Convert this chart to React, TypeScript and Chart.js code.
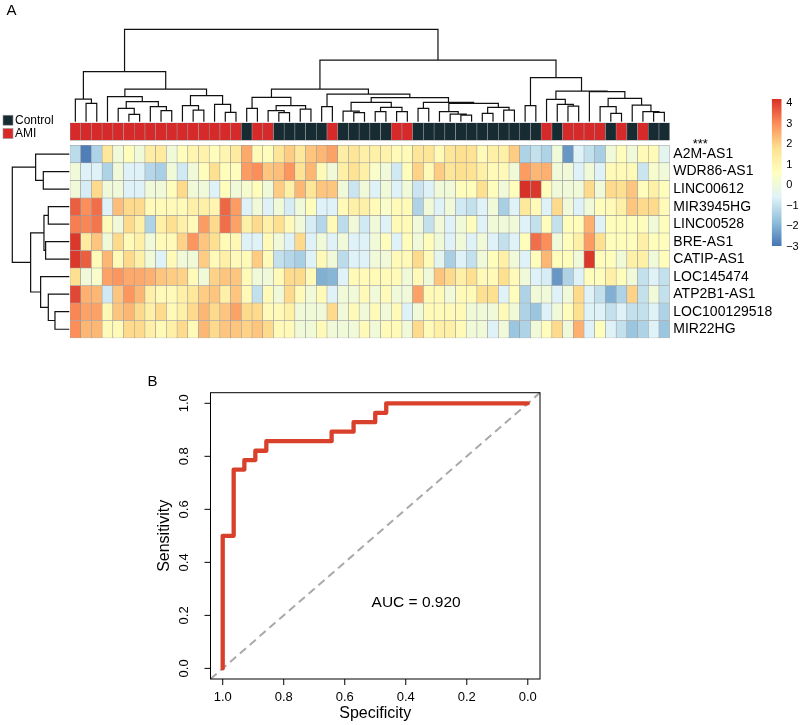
import React, { useEffect, useRef } from 'react';
import { Chart, registerables } from 'chart.js';

Chart.register(...registerables);

const W = 800;
const H = 725;
const FONT = '"Liberation Sans", Arial, Helvetica, sans-serif';

// ---------------- Panel A data ----------------
const A = 'AMI';
const C = 'Control';
const sampleGroups = [
  A, A, A, A, A, A, A, A, A, A, A, A, A, A, A, A, C, A, A, C, C, C, C, C, A, C, C, C, C, C,
  A, A, C, C, C, C, C, C, C, C, C, C, C, C, A, C, A, A, A, A, C, A, C, A, C, C,
];
const groupColors: Record<string, string> = { Control: '#172B33', AMI: '#D62A2A' };
const legendGroups = ['Control', 'AMI'];

const geneNames = [
  'A2M-AS1', 'WDR86-AS1', 'LINC00612', 'MIR3945HG', 'LINC00528', 'BRE-AS1',
  'CATIP-AS1', 'LOC145474', 'ATP2B1-AS1', 'LOC100129518', 'MIR22HG',
];
const geneSignificance = ['***', '', '', '', '', '', '', '', '', '', ''];

const exprA2M_AS1 = [-1.1,-2.8,-1.3,1.5,0.1,0.7,0.1,1.3,1.4,0.1,0.7,1.0,1.1,0.7,1.0,1.4,2.6,0.8,0.7,1.6,2.1,1.5,2.2,2.4,2.7,1.3,1.6,1.2,1.2,1.1,0.8,0.8,1.6,1.6,0.8,1.6,1.8,1.7,0.8,1.2,1.2,2.1,-1.3,-1.0,-1.3,0.1,-2.4,-0.6,-1.0,-1.4,0.1,0.7,0.1,0.8,0.8,-0.4];
const exprWDR86_AS1 = [0.1,-0.6,-0.6,-1.3,0.1,-0.6,-0.6,-1.2,-1.4,0.1,-0.8,0.1,0.7,1.8,0.7,0.7,2.8,3.0,2.2,2.3,2.9,1.7,2.4,0.8,0.1,1.2,1.7,1.2,0.4,0.1,-0.8,0.7,2.0,0.8,2.1,1.6,1.8,1.7,1.2,0.8,0.8,0.1,2.8,2.4,2.5,0.1,0.1,-0.6,0.1,-0.6,0.8,0.8,0.8,-0.9,0.3,0.1];
const exprLINC00612 = [0.1,-0.7,1.9,0.1,0.1,-0.6,-0.6,0.1,0.1,0.7,1.9,0.1,0.1,-0.6,0.7,0.1,0.3,0.7,0.1,2.1,1.2,2.4,1.6,2.2,2.2,0.1,-0.9,0.1,-0.6,0.1,-0.6,0.1,-0.9,-0.6,0.1,0.1,0.7,0.7,1.8,0.7,0.1,0.7,4.2,4.1,0.7,0.1,0.1,0.1,1.9,0.1,1.9,1.8,2.2,0.7,1.2,0.7];
const exprMIR3945HG = [3.6,3.0,3.4,-0.6,2.3,1.9,1.9,0.8,0.8,0.8,0.8,1.2,1.2,1.0,3.5,2.8,-0.6,0.1,-0.6,0.1,-0.7,0.1,0.7,-0.6,-0.6,0.8,1.2,1.2,0.8,0.4,0.8,0.8,-1.3,0.1,-0.6,0.1,-0.8,-1.0,-0.6,0.1,-1.4,-0.6,1.5,0.8,-0.6,1.9,0.1,-0.6,0.1,0.7,0.8,1.2,2.2,1.9,1.9,0.8];
const exprLINC00528 = [3.2,3.1,3.3,0.8,0.1,1.9,1.2,-1.3,1.2,1.8,1.2,0.8,2.8,1.9,3.4,2.7,1.2,1.9,1.2,1.8,0.8,0.1,-0.7,-1.2,0.8,-1.1,0.1,-0.8,0.1,-0.6,0.8,0.8,0.1,-1.0,0.1,-0.6,0.1,0.7,-0.6,0.1,0.1,0.1,-0.6,-1.0,0.7,-1.0,0.7,0.7,2.5,-0.6,0.7,0.7,0.7,0.7,0.1,0.7];
const exprBRE_AS1 = [4.1,1.4,2.2,0.1,1.9,0.8,1.2,0.1,0.8,0.8,2.0,2.9,2.2,1.8,0.8,0.9,-0.6,-0.6,0.8,0.1,-0.6,1.9,-0.6,0.1,-0.6,0.1,-0.6,-0.6,0.1,0.7,-0.6,0.7,0.1,0.7,0.1,-0.6,0.1,-0.6,0.1,-0.6,-1.0,-0.6,0.7,3.4,3.0,0.1,0.7,1.2,2.8,1.8,0.7,0.7,0.7,1.2,0.7,0.7];
const exprCATIP_AS1 = [4.1,3.6,0.8,2.4,0.8,1.9,1.2,0.1,-0.6,0.8,0.1,0.1,2.1,0.8,1.2,0.8,0.8,2.1,0.8,-1.0,-1.2,-1.4,-0.6,0.8,0.1,-1.1,-0.6,-0.6,0.1,0.1,0.8,0.8,1.9,0.8,-0.4,-1.4,-0.6,-1.0,0.1,0.7,1.2,0.1,-0.6,0.7,2.4,0.7,0.7,0.1,4.1,0.7,0.7,0.1,1.2,1.2,0.1,0.7];
const exprLOC145474 = [1.8,0.1,0.4,2.7,2.9,2.6,2.6,2.5,2.2,2.1,2.0,0.8,0.1,2.0,2.2,2.2,0.8,0.1,0.1,0.8,1.9,1.9,0.8,-2.0,-1.9,-0.6,0.8,0.8,0.8,0.8,0.8,0.1,0.8,0.1,2.2,1.9,1.2,1.8,0.8,0.8,1.8,0.8,0.1,-0.6,-0.7,-2.4,-1.3,-0.6,0.7,0.7,1.2,0.7,0.1,-1.0,-0.6,-1.0];
const exprATP2B1_AS1 = [3.9,2.5,2.4,-0.8,2.2,2.9,2.4,1.2,0.8,0.8,1.2,1.5,2.1,2.2,1.2,2.2,0.8,-1.0,0.8,0.1,1.9,0.8,0.1,0.8,-0.6,0.1,0.1,0.8,0.1,0.8,0.1,0.1,2.7,0.8,0.8,0.1,0.8,0.8,1.8,1.8,-0.6,0.7,-1.3,0.1,0.1,-0.6,0.1,1.9,-0.6,-1.0,-2.0,-1.3,2.0,-1.0,0.1,-1.0];
const exprLOC100129518 = [3.1,2.7,2.7,0.9,2.2,2.4,1.9,1.2,1.9,0.8,1.2,1.9,2.4,1.9,2.2,2.7,1.9,1.9,0.8,0.8,1.2,0.1,0.1,0.1,1.9,0.1,0.8,0.1,0.8,0.1,0.8,-0.6,0.1,0.8,0.8,0.8,0.8,0.1,0.1,0.1,0.8,0.1,-1.3,-1.6,-0.6,0.1,0.7,1.8,-0.6,-0.6,-1.0,-0.6,-1.0,-1.0,-0.6,-1.3];
const exprMIR22HG = [3.0,2.4,2.4,0.8,0.8,1.9,1.9,1.2,0.8,1.2,1.9,0.8,2.4,1.9,2.2,2.2,2.0,2.2,1.9,0.8,0.8,0.1,0.1,0.8,0.1,0.1,0.1,0.8,0.1,0.8,0.8,0.1,1.9,0.8,1.2,1.2,0.8,0.1,0.1,-0.6,0.1,-1.6,-1.3,0.1,0.7,1.9,0.1,2.5,-0.6,0.7,-0.6,-1.0,-1.6,-1.3,-0.6,-1.6];

const heatRows = [
  exprA2M_AS1, exprWDR86_AS1, exprLINC00612, exprMIR3945HG, exprLINC00528, exprBRE_AS1,
  exprCATIP_AS1, exprLOC145474, exprATP2B1_AS1, exprLOC100129518, exprMIR22HG,
];

// colour scale (reversed RdYlBu, 7 colours)
const paletteStops = ['#4575B4', '#91BFDB', '#E0F3F8', '#FFFFBF', '#FEE090', '#FC8D59', '#D73027'];
const colorMin = -2.95;
const colorMax = 4.2;
const colorbarTicks = [4, 3, 2, 1, 0, -1, -2, -3];

// column dendrogram (hclust-style merges: negative = leaf column, positive = earlier merge)
const colMerges: [number, number][] = [
  [-2, -3], [-1, 1], [-6, -7], [-5, 3], [-9, -10], [-8, 5], [4, 6], [-4, 7],
  [-12, -13], [-11, 9], [-15, -16], [-14, 11], [10, 12], [8, 13], [2, 14],
  [-17, -18], [-20, -21], [-19, 17], [-22, -23], [18, 19], [16, 20],
  [-24, -25], [-27, -28], [-26, 23], [-29, -30], [-31, -32], [25, 26], [24, 27],
  [-33, -34], [-37, -38], [-36, 30], [-35, 31], [-39, -40], [-41, -42], [33, 34],
  [32, 35], [29, 36], [28, 37], [22, 38], [21, 39],
  [-43, -44], [-47, -48], [-46, 42], [-45, 43], [-51, -52], [-50, 45], [-55, -56],
  [-54, 47], [-53, 48], [46, 49], [-49, 50], [44, 51], [41, 52], [40, 53], [15, 54],
];
const colHeights = [
  55, 68, 22, 40, 33, 45, 60, 75, 35, 48, 28, 52, 78, 98, 150,
  40, 27, 33, 38, 48, 73, 45, 27, 32, 30, 30, 43, 58,
  40, 20, 23, 30, 25, 35, 43, 55, 58, 72, 83, 98,
  48, 47, 52, 67, 25, 45, 28, 30, 50, 70, 90, 92, 132, 185, 277,
];

// row dendrogram
const rowMerges: [number, number][] = [
  [-2, -3], [-1, 1], [-4, -5], [-6, -7], [3, 4], [-10, -11], [-9, 6], [-8, 7], [5, 8], [2, 9],
];
const rowHeights = [78, 101, 63, 71, 76, 43, 63, 86, 116, 171];

// ---------------- Panel B data ----------------
const rocSpecificity = [1, 1, 0.964, 0.964, 0.929, 0.929, 0.893, 0.893, 0.857, 0.857, 0.643, 0.643, 0.571, 0.571, 0.5, 0.5, 0.464, 0.464, 0];
const rocSensitivity = [0, 0.5, 0.5, 0.75, 0.75, 0.786, 0.786, 0.821, 0.821, 0.857, 0.857, 0.893, 0.893, 0.929, 0.929, 0.964, 0.964, 1, 1];
const refLineSpecificity = [1.04, -0.04];
const refLineSensitivity = [-0.04, 1.04];
const rocTicks = [1.0, 0.8, 0.6, 0.4, 0.2, 0.0];
const aucLabel = 'AUC = 0.920';
const aucPosition = { specificity: 0.366, sensitivity: 0.246 };

// ---------------- helpers ----------------
function hexToRgb(h: string) {
  const n = parseInt(h.slice(1), 16);
  return [(n >> 16) & 255, (n >> 8) & 255, n & 255];
}
function heatColor(v: number) {
  let t = (v - colorMin) / (colorMax - colorMin);
  t = Math.max(0, Math.min(1, t));
  const p = t * (paletteStops.length - 1);
  const i = Math.min(paletteStops.length - 2, Math.floor(p));
  const f = p - i;
  const a = hexToRgb(paletteStops[i]);
  const b = hexToRgb(paletteStops[i + 1]);
  const c = a.map((x, k) => Math.round(x + (b[k] - x) * f));
  return `rgb(${c[0]},${c[1]},${c[2]})`;
}

function dendroPoints(merges: [number, number][], heights: number[], swap: boolean) {
  const pos: number[] = [];
  const hts: number[] = [];
  const pts: { x: number; y: number | null }[] = [];
  const get = (k: number) => (k < 0 ? [-k - 1 + 0.5, 0] : [pos[k - 1], hts[k - 1]]);
  merges.forEach(([a, b], i) => {
    const [pa, ha] = get(a);
    const [pb, hb] = get(b);
    const h = heights[i];
    const seg = [[pa, ha], [pa, h], [pb, h], [pb, hb]];
    seg.forEach(([p, q]) => pts.push(swap ? { x: q, y: p } : { x: p, y: q }));
    pts.push({ x: 0, y: null });
    pos.push((pa + pb) / 2);
    hts.push(h);
  });
  return pts;
}

function area(left: number, top: number, right: number, bottom: number) {
  return { left, top, right: W - right, bottom: H - bottom };
}

const baseOpts = (padding: any) => ({
  responsive: false,
  maintainAspectRatio: false,
  animation: false as const,
  events: [] as any[],
  layout: { padding },
  plugins: { legend: { display: false }, tooltip: { enabled: false }, title: { display: false } },
});

// ---------------- component ----------------
export default function App() {
  const refTop = useRef<HTMLCanvasElement>(null);
  const refRow = useRef<HTMLCanvasElement>(null);
  const refHeat = useRef<HTMLCanvasElement>(null);
  const refBar = useRef<HTMLCanvasElement>(null);
  const refRoc = useRef<HTMLCanvasElement>(null);

  useEffect(() => {
    const charts: Chart[] = [];

    // column dendrogram
    charts.push(new Chart(refTop.current!, {
      type: 'scatter',
      data: {
        datasets: [{
          data: dendroPoints(colMerges, colHeights, false) as any,
          showLine: true, borderColor: '#111', borderWidth: 1.2, pointRadius: 0,
          spanGaps: false, clip: false as any,
        }],
      },
      options: {
        ...baseOpts(area(70, 29.4, 669.7, 121.7)),
        scales: {
          x: { type: 'linear', display: false, min: 0, max: sampleGroups.length },
          y: { type: 'linear', display: false, min: 0, max: colHeights[colHeights.length - 1] },
        },
      } as any,
    }));

    // row dendrogram
    charts.push(new Chart(refRow.current!, {
      type: 'scatter',
      data: {
        datasets: [{
          data: dendroPoints(rowMerges, rowHeights, true) as any,
          showLine: true, borderColor: '#111', borderWidth: 1.2, pointRadius: 0,
          spanGaps: false, clip: false as any,
        }],
      },
      options: {
        ...baseOpts(area(12.3, 145.3, 69.3, 338)),
        scales: {
          x: { type: 'linear', display: false, min: 0, max: rowHeights[rowHeights.length - 1], reverse: true },
          y: { type: 'linear', display: false, min: 0, max: geneNames.length, reverse: true },
        },
      } as any,
    }));

    // heatmap + annotation
    const rowUnit = (338 - 145.3) / geneNames.length;
    const annTop = (122.7 - 145.3) / rowUnit;
    const annBottom = (140.3 - 145.3) / rowUnit;
    const heatDatasets: any[] = heatRows.map((vals, r) => ({
      label: geneNames[r],
      data: vals.map(() => [r, r + 1]),
      backgroundColor: vals.map(heatColor),
      borderColor: '#9a9a9a', borderWidth: 0.55, borderSkipped: false,
      barPercentage: 1, categoryPercentage: 1, grouped: false, inflateAmount: 0.3,
    }));
    heatDatasets.push({
      label: 'group',
      data: sampleGroups.map(() => [annTop, annBottom]),
      backgroundColor: sampleGroups.map((g) => groupColors[g]),
      borderColor: '#9a9a9a', borderWidth: 0.55, borderSkipped: false,
      barPercentage: 1, categoryPercentage: 1, grouped: false, inflateAmount: 0.3,
    });
    const heatText = {
      id: 'heatText',
      afterDatasetsDraw(chart: any) {
        const { ctx, chartArea: a, scales } = chart;
        const y = scales.y;
        ctx.save();
        ctx.fillStyle = '#000';
        ctx.textAlign = 'left';
        ctx.textBaseline = 'middle';
        ctx.font = `14px ${FONT}`;
        geneNames.forEach((g, r) => ctx.fillText(g, a.right + 3.6, y.getPixelForValue(r + 0.5)));
        ctx.font = `13px ${FONT}`;
        ctx.textBaseline = 'alphabetic';
        geneSignificance.forEach((s, r) => {
          if (s) ctx.fillText(s, a.right + 23, y.getPixelForValue(r + 0.5) - 6.2);
        });
        ctx.textBaseline = 'middle';
        ctx.font = `15px ${FONT}`;
        ctx.fillText('A', 6.5, 10.5);
        ctx.font = `12px ${FONT}`;
        legendGroups.forEach((g, i) => {
          const top = 115.2 + i * 13.3;
          ctx.fillStyle = groupColors[g];
          ctx.fillRect(3, top, 10, 10);
          ctx.strokeStyle = '#9a9a9a';
          ctx.lineWidth = 0.6;
          ctx.strokeRect(3, top, 10, 10);
          ctx.fillStyle = '#000';
          ctx.fillText(g, 15, top + 5.3);
        });
        ctx.restore();
      },
    };
    charts.push(new Chart(refHeat.current!, {
      type: 'bar',
      data: { labels: sampleGroups.map((g, i) => `${g} ${i + 1}`), datasets: heatDatasets },
      options: {
        ...baseOpts(area(70, 121.7, 669.7, 338.9)),
        scales: {
          x: { type: 'category', display: false, offset: true },
          y: { type: 'linear', display: false, min: annTop - 0.06, max: geneNames.length + 0.05, reverse: true },
        },
      } as any,
      plugins: [heatText],
    }));

    // colour bar
    const barText = {
      id: 'barText',
      afterDatasetsDraw(chart: any) {
        const { ctx, chartArea: a, scales } = chart;
        ctx.save();
        ctx.fillStyle = '#000';
        ctx.font = `11px ${FONT}`;
        ctx.textAlign = 'left';
        ctx.textBaseline = 'middle';
        colorbarTicks.forEach((v) => {
          const t = v < 0 ? '\u2212' + Math.abs(v) : String(v);
          ctx.fillText(t, a.right + 4.5, scales.y.getPixelForValue(v));
        });
        ctx.restore();
      },
    };
    charts.push(new Chart(refBar.current!, {
      type: 'bar',
      data: {
        labels: ['scale'],
        datasets: [{
          data: [[colorMin, colorMax]] as any,
          backgroundColor: (c: any) => {
            const ch = c.chart;
            const ys = ch.scales && ch.scales.y;
            if (!ys || !ch.chartArea) return '#ffffbf';
            const p0 = ys.getPixelForValue(colorMin);
            const p1 = ys.getPixelForValue(colorMax);
            if (!isFinite(p0) || !isFinite(p1)) return '#ffffbf';
            const g = ch.ctx.createLinearGradient(0, p0, 0, p1);
            paletteStops.forEach((col, i) => g.addColorStop(i / (paletteStops.length - 1), col));
            return g;
          },
          borderWidth: 0, barPercentage: 1, categoryPercentage: 1, inflateAmount: 0,
        }],
      },
      options: {
        ...baseOpts(area(771.7, 98.9, 781.7, 247)),
        scales: {
          x: { type: 'category', display: false },
          y: { type: 'linear', display: false, min: -3, max: 4.2 },
        },
      } as any,
      plugins: [barText],
    }));

    // ROC curve
    const rocDecor = {
      id: 'rocDecor',
      afterDatasetsDraw(chart: any) {
        const { ctx, chartArea: a, scales } = chart;
        const x = scales.x;
        const y = scales.y;
        ctx.save();
        ctx.strokeStyle = '#000';
        ctx.lineWidth = 1;
        ctx.strokeRect(a.left, a.top, a.right - a.left, a.bottom - a.top);
        ctx.fillStyle = '#000';
        ctx.font = `13px ${FONT}`;
        ctx.textAlign = 'center';
        ctx.textBaseline = 'middle';
        rocTicks.forEach((v) => {
          const px = x.getPixelForValue(v);
          ctx.beginPath();
          ctx.moveTo(px, a.bottom);
          ctx.lineTo(px, a.bottom + 6);
          ctx.stroke();
          ctx.fillText(v.toFixed(1), px, a.bottom + 18);
        });
        rocTicks.forEach((v) => {
          const py = y.getPixelForValue(v);
          ctx.beginPath();
          ctx.moveTo(a.left - 6, py);
          ctx.lineTo(a.left, py);
          ctx.stroke();
          ctx.save();
          ctx.translate(a.left - 26, py);
          ctx.rotate(-Math.PI / 2);
          ctx.fillText(v.toFixed(1), 0, 0);
          ctx.restore();
        });
        ctx.font = `16px ${FONT}`;
        ctx.fillText('Specificity', (a.left + a.right) / 2, a.bottom + 34.5);
        ctx.save();
        ctx.translate(a.left - 45.5, (a.top + a.bottom) / 2);
        ctx.rotate(-Math.PI / 2);
        ctx.fillText('Sensitivity', 0, 0);
        ctx.restore();
        ctx.font = `15.5px ${FONT}`;
        ctx.fillText(aucLabel, x.getPixelForValue(aucPosition.specificity), y.getPixelForValue(aucPosition.sensitivity));
        ctx.font = `15px ${FONT}`;
        ctx.textAlign = 'left';
        ctx.fillText('B', 147.5, 382);
        ctx.restore();
      },
    };
    charts.push(new Chart(refRoc.current!, {
      type: 'scatter',
      data: {
        datasets: [
          {
            label: 'ROC',
            data: rocSpecificity.map((s, i) => ({ x: s, y: rocSensitivity[i] })),
            showLine: true, borderColor: '#D9402B', borderWidth: 4.3, pointRadius: 0,
            borderCapStyle: 'round', borderJoinStyle: 'round', clip: false as any,
          },
          {
            label: 'reference',
            data: refLineSpecificity.map((s, i) => ({ x: s, y: refLineSensitivity[i] })),
            showLine: true, borderColor: '#A9A9A9', borderWidth: 2, pointRadius: 0,
            borderDash: [8, 5],
          },
        ],
      },
      options: {
        ...baseOpts(area(210.5, 392.7, 540, 679)),
        scales: {
          x: { type: 'linear', display: false, min: -0.04, max: 1.04, reverse: true },
          y: { type: 'linear', display: false, min: -0.04, max: 1.04 },
        },
      } as any,
      plugins: [rocDecor],
    }));

    return () => charts.forEach((c) => c.destroy());
  }, []);

  const cs: React.CSSProperties = { position: 'absolute', left: 0, top: 0, width: W, height: H };
  return (
    <div style={{ position: 'fixed', left: 0, top: 0, width: W, height: H, background: '#fff' }}>
      <canvas ref={refTop} width={W} height={H} style={cs} />
      <canvas ref={refRow} width={W} height={H} style={cs} />
      <canvas ref={refHeat} width={W} height={H} style={cs} />
      <canvas ref={refBar} width={W} height={H} style={cs} />
      <canvas ref={refRoc} width={W} height={H} style={cs} />
    </div>
  );
}
